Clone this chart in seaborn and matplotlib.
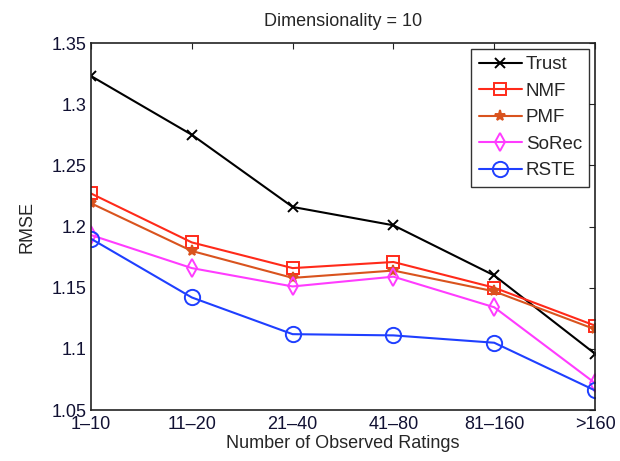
import matplotlib
matplotlib.use("Agg")
import matplotlib.pyplot as plt
import seaborn as sns
import pandas as pd
from matplotlib.ticker import FuncFormatter

# data
buckets = ["1\u201310", "11\u201320", "21\u201340", "41\u201380", "81\u2013160", ">160"]
trust = [1.323, 1.275, 1.216, 1.201, 1.160, 1.096]
nmf = [1.227, 1.187, 1.166, 1.171, 1.150, 1.119]
pmf = [1.219, 1.180, 1.158, 1.164, 1.147, 1.116]
sorec = [1.193, 1.166, 1.151, 1.159, 1.134, 1.072]
rste = [1.190, 1.142, 1.112, 1.111, 1.105, 1.066]

methods = ["Trust", "NMF", "PMF", "SoRec", "RSTE"]
values = [trust, nmf, pmf, sorec, rste]

rows = []
for m, vals in zip(methods, values):
    for i, v in enumerate(vals):
        rows.append({"method": m, "pos": i, "rmse": v})
df = pd.DataFrame(rows)

colors = {"Trust": "black", "NMF": "#ff2a1a", "PMF": "#d9531e",
          "SoRec": "#ff3cff", "RSTE": "#1f3fff"}
markers = {"Trust": "x", "NMF": "s", "PMF": "*", "SoRec": "d", "RSTE": "o"}
open_mk = {"Trust": False, "NMF": True, "PMF": False, "SoRec": True, "RSTE": True}
msize = {"Trust": 7, "NMF": 9, "PMF": 8, "SoRec": 9, "RSTE": 11}

sns.set_style("white")
plt.rcParams["font.family"] = ["Liberation Sans", "DejaVu Sans"]

fig = plt.figure(figsize=(6.2, 4.61), dpi=100)
ax = fig.add_axes([0.1468, 0.1106, 0.8129, 0.7961])

for m in methods:
    sub = df[df["method"] == m]
    sns.lineplot(data=sub, x="pos", y="rmse", ax=ax, color=colors[m],
                 marker=markers[m], markersize=msize[m], linewidth=1.5,
                 markerfacecolor="none" if open_mk[m] else colors[m],
                 markeredgecolor=colors[m], markeredgewidth=1.4, label=m)

ax.set_xlim(0, 5)
ax.set_ylim(1.05, 1.35)
ax.set_xticks(range(len(buckets)))
ax.set_xticklabels(buckets)
ax.set_yticks([1.05, 1.1, 1.15, 1.2, 1.25, 1.3, 1.35])
ax.yaxis.set_major_formatter(FuncFormatter(lambda v, p: "%g" % round(v, 2)))
ax.tick_params(direction="in", length=4, width=0.8, top=True, right=True,
               labelsize=13, colors="#222222", labelcolor="#111133")
ax.tick_params(axis="x", pad=4)
ax.tick_params(axis="y", pad=3)
for s in ax.spines.values():
    s.set_color("#222222")
    s.set_linewidth(1.2)

ax.set_xlabel("Number of Observed Ratings", fontsize=13, labelpad=2)
ax.set_ylabel("RMSE", fontsize=13, labelpad=12)
ax.set_title("Dimensionality = 10", fontsize=13, pad=12)

leg = ax.legend(loc="upper right", fontsize=13.5, frameon=True, fancybox=False,
                handlelength=2.3, borderaxespad=0.3, labelspacing=0.5,
                handletextpad=0.2, borderpad=0.4)
leg.get_frame().set_edgecolor("black")
leg.get_frame().set_linewidth(1.0)

fig.savefig("out.png", dpi=100)
